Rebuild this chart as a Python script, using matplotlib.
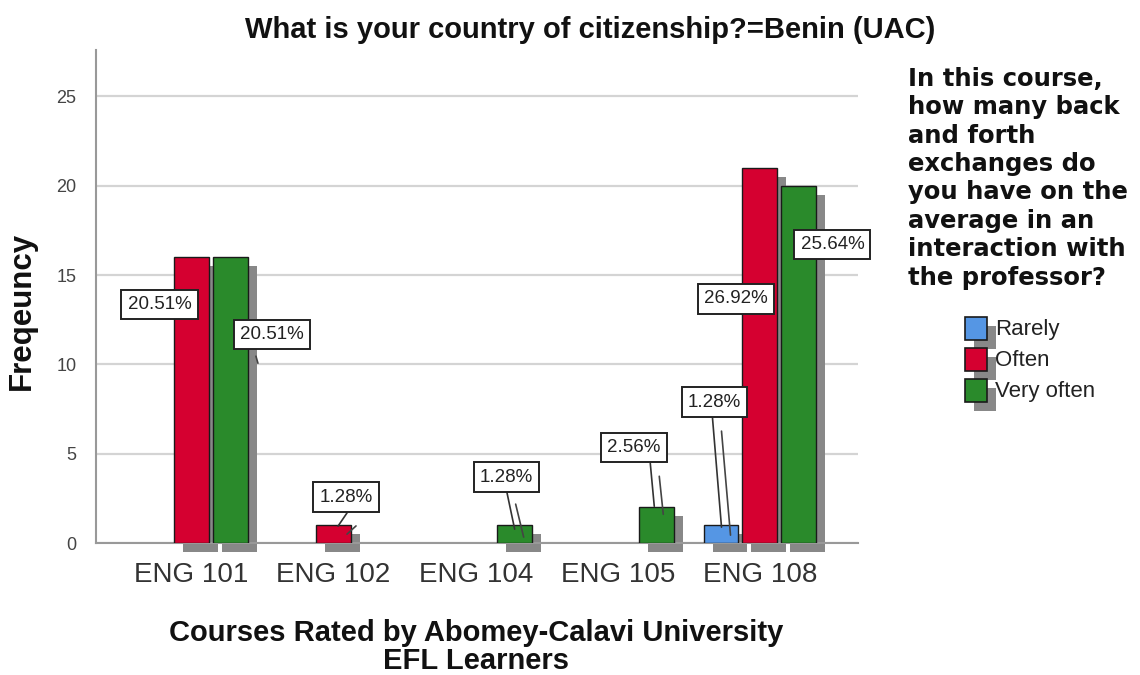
import matplotlib
matplotlib.use("Agg")
import matplotlib.pyplot as plt
from matplotlib.transforms import ScaledTranslation
from matplotlib.patches import Rectangle

# ---------------- data ----------------
courses = ["ENG 101", "ENG 102", "ENG 104", "ENG 105", "ENG 108"]
categories = ["Rarely", "Often", "Very often"]
rarely = [0, 0, 0, 0, 1]
often = [16, 1, 0, 0, 21]
very_often = [16, 0, 1, 2, 20]
yticks = [0, 5, 10, 15, 20, 25]

title = "What is your country of citizenship?=Benin (UAC)"
ylabel = "Freqeuncy"
xlabel = "Courses Rated by Abomey-Calavi University\nEFL Learners"
legend_title = ("In this course,\nhow many back\nand forth\nexchanges do\n"
                "you have on the\naverage in an\ninteraction with\nthe professor?")

colors = ["#5596E4", "#D50030", "#2A8A2B"]
shadow_col = "#888888"

series = [rarely, often, very_often]
total = sum(sum(s) for s in series)

W, H, DPI = 1140, 675, 100
fig = plt.figure(figsize=(W / DPI, H / DPI), dpi=DPI)
ax = fig.add_axes([96 / W, 1 - 543 / H, (858 - 96) / W, (543 - 50) / H])

slot = 0.274
bw = 0.246
SH = 9  # shadow offset px


def off(dx, dy):
    return ax.transData + ScaledTranslation(dx / DPI, dy / DPI, fig.dpi_scale_trans)


bar_top = {}
for k, (vals, col) in enumerate(zip(series, colors)):
    xs = [i + (k - 1) * slot for i, v in enumerate(vals) if v > 0]
    hs = [v for v in vals if v > 0]
    sh = ax.bar(xs, hs, width=bw, color=shadow_col, linewidth=0, zorder=1.2)
    for p in sh:
        p.set_transform(off(SH, -SH))
        p.set_clip_on(False)
    ax.bar(xs, hs, width=bw, color=col, edgecolor="#1a1a1a", linewidth=1.0, zorder=2)
    for i, v in enumerate(vals):
        if v > 0:
            bar_top[(i, k)] = (i + (k - 1) * slot, v)

ax.set_xlim(-0.672, 4.69)
ax.set_ylim(0, 27.6)
ax.set_yticks(yticks)
ax.set_xticks(range(len(courses)))
ax.set_xticklabels(courses)
ax.yaxis.grid(True, color="#D4D4D4", linewidth=1.6)
ax.set_axisbelow(True)
for s in ["top", "right"]:
    ax.spines[s].set_visible(False)
for s in ["left", "bottom"]:
    ax.spines[s].set_color("#999999")
    ax.spines[s].set_linewidth(1.5)
ax.spines["bottom"].set_zorder(1.5)
ax.tick_params(axis="y", length=0, pad=14, labelsize=13, labelcolor="#444444")
ax.tick_params(axis="x", length=0, pad=14, labelsize=20, labelcolor="#333333")
for t in ax.get_xticklabels() + ax.get_yticklabels():
    t.set_fontfamily("Liberation Sans")

# percentage labels: (course, category) -> label centre offset from bar top (px)
label_offsets = {
    (0, 1): (-32, -47),
    (0, 2): (41.5, -77),
    (1, 1): (12.5, 28),
    (2, 2): (-8, 48),
    (3, 2): (-23, 59.5),
    (4, 0): (-6.5, 123),
    (4, 1): (-24, -131),
    (4, 2): (33.5, -59),
}
# leader lines: start / end offsets from bar top (px)
leaders = {
    (1, 1): ((13.4, 12.2), (4.4, -1)),
    (2, 2): ((-8, 34), (0, -4)),
    (3, 2): ((-6.5, 44), (-2.5, 1)),
    (4, 0): ((-8.5, 107), (0.5, -2)),
}
shadow_leaders = {
    (0, 2): ((25.5, -99), (27.5, -106)),
}

for key, (dx, dy) in label_offsets.items():
    x, v = bar_top[key]
    pct = series[key[1]][key[0]] / total * 100
    ax.text(x, v, f"{pct:.2f}%", transform=off(dx, dy), ha="center", va="center",
            fontsize=13.5, family="Liberation Sans", color="#222222", zorder=6,
            bbox=dict(boxstyle="square,pad=0.33", fc="white", ec="#222222", lw=1.4))

for key, ((sx, sy), (ex, ey)) in leaders.items():
    x, v = bar_top[key]
    ax.annotate("", xy=(x, v), xycoords=off(ex, ey), xytext=(x, v), textcoords=off(sx, sy),
                arrowprops=dict(arrowstyle="-", color="#333333", lw=1.2, shrinkA=0, shrinkB=0),
                zorder=5, annotation_clip=False)
    ax.annotate("", xy=(x, v), xycoords=off(ex + 9, ey - 8), xytext=(x, v),
                textcoords=off(sx + 9, sy - 13),
                arrowprops=dict(arrowstyle="-", color="#444444", lw=1.2, shrinkA=0, shrinkB=0),
                zorder=5, annotation_clip=False)
for key, ((sx, sy), (ex, ey)) in shadow_leaders.items():
    x, v = bar_top[key]
    ax.annotate("", xy=(x, v), xycoords=off(ex, ey), xytext=(x, v), textcoords=off(sx, sy),
                arrowprops=dict(arrowstyle="-", color="#444444", lw=1.2, shrinkA=0, shrinkB=0),
                zorder=5, annotation_clip=False)

# titles
fig.text(590 / W, 1 - 30 / H, title, ha="center", va="center", fontsize=21,
         fontweight="bold", family="Liberation Sans", color="#111111")
fig.text(22 / W, 1 - 311 / H, ylabel, ha="center", va="center", rotation=90,
         fontsize=22.5, fontweight="bold", family="Liberation Sans", color="#111111")
fig.text(476 / W, 1 - 647 / H, xlabel, ha="center", va="center", fontsize=21,
         fontweight="bold", family="Liberation Sans", color="#111111", linespacing=1.0)

# legend
fig.text(908 / W, 1 - 67 / H, legend_title, ha="left", va="top", fontsize=17.5,
         fontweight="bold", family="DejaVu Sans", color="#111111", linespacing=1.23)
box_tops = [317, 348, 379]
for top, col, lab in zip(box_tops, colors, categories):
    fig.patches.append(Rectangle(((965 + SH) / W, 1 - (top + 23 + SH) / H), 22 / W, 23 / H,
                                 transform=fig.transFigure, fc=shadow_col, lw=0, zorder=1))
for top, col, lab in zip(box_tops, colors, categories):
    fig.patches.append(Rectangle((965 / W, 1 - (top + 23) / H), 22 / W, 23 / H,
                                 transform=fig.transFigure, fc=col, ec="#1a1a1a", lw=1.2, zorder=2))
    fig.text(995 / W, 1 - (top + 12) / H, lab, ha="left", va="center", fontsize=16,
             family="Liberation Sans", color="#222222")

fig.savefig("out.png", dpi=DPI, facecolor="white")
